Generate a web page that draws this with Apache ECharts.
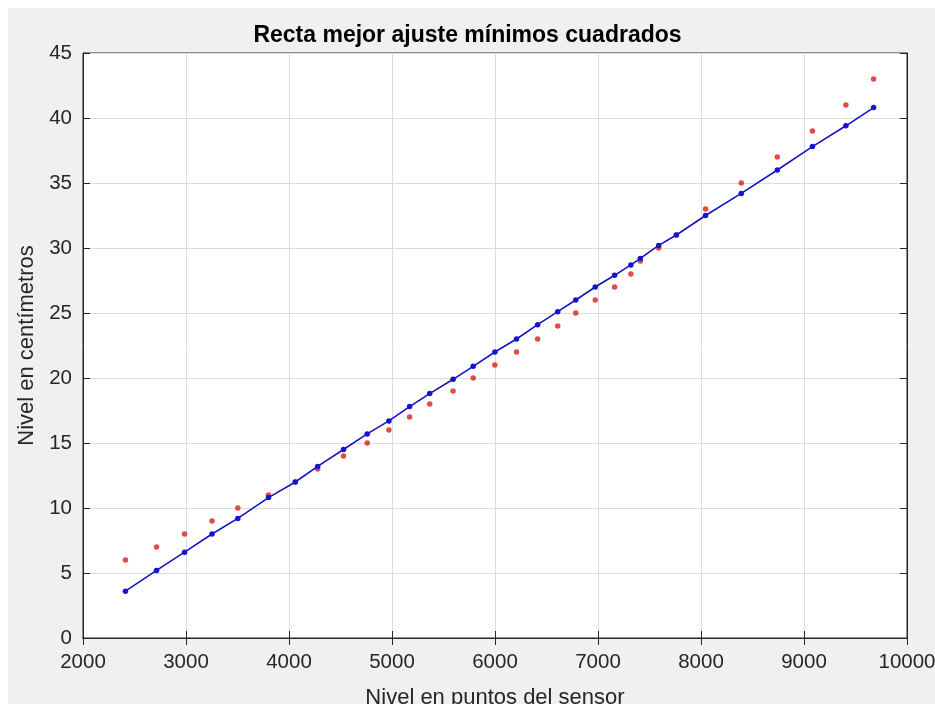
<!DOCTYPE html>
<html>
<head>
<meta charset="utf-8">
<script src="https://cdn.jsdelivr.net/npm/echarts@6/dist/echarts.min.js"></script>
<style>
html,body{margin:0;padding:0;background:#ffffff;}
#wrap{position:relative;width:935px;height:704px;background:#ffffff;overflow:hidden;}
#bg{position:absolute;left:8px;top:8px;right:0;bottom:0;background:#f0f0f0;}
#chart{position:absolute;left:0;top:0;width:935px;height:704px;}
</style>
</head>
<body>
<div id="wrap"><div id="bg"></div><div id="chart"></div></div>
<script>
// Sensor readings (x) and levels
const sensorPoints = [2412, 2714, 2986, 3253, 3503, 3801, 4061, 4278, 4529, 4759, 4970, 5171, 5366, 5593, 5788, 5999, 6209, 6414, 6609, 6784, 6973, 7161, 7319, 7411, 7589, 7761, 8044, 8391, 8741, 9082, 9407, 9676];
const measuredCm = [6, 7, 8, 9, 10, 11, 12, 13, 14, 15, 16, 17, 18, 19, 20, 21, 22, 23, 24, 25, 26, 27, 28, 29, 30, 31, 33, 35, 37, 39, 41, 43];
const fittedCm = [3.6, 5.2, 6.6, 8.0, 9.2, 10.8, 12.0, 13.2, 14.5, 15.7, 16.7, 17.8, 18.8, 19.9, 20.9, 22.0, 23.0, 24.1, 25.1, 26.0, 27.0, 27.9, 28.7, 29.2, 30.2, 31.0, 32.5, 34.2, 36.0, 37.8, 39.4, 40.8];
const xTicks = [2000, 3000, 4000, 5000, 6000, 7000, 8000, 9000, 10000];
const yTicks = [0, 5, 10, 15, 20, 25, 30, 35, 40, 45];

const titleText = 'Recta mejor ajuste mínimos cuadrados';
const xName = 'Nivel en puntos del sensor';
const yName = 'Nivel en centímetros';

const FONT = 'Liberation Sans, Arial, Helvetica, sans-serif';
const AX = '#262626';

const chart = echarts.init(document.getElementById('chart'), null, {renderer: 'canvas'});

const measuredData = sensorPoints.map((x, i) => [x, measuredCm[i]]);
const fittedData = sensorPoints.map((x, i) => [x, fittedCm[i]]);

const tickCommon = {show: true, inside: true, length: 7, lineStyle: {color: AX, width: 1}};

chart.setOption({
  animation: false,
  backgroundColor: 'transparent',
  title: {
    text: titleText,
    left: 'center',
    top: 19,
    textStyle: {fontFamily: FONT, fontSize: 23, fontWeight: 'bold', color: '#000000'}
  },
  grid: {
    left: 83, right: 28, top: 53, bottom: 66,
    outerBoundsMode: 'none',
    containLabel: false,
    show: true, backgroundColor: '#ffffff', borderColor: AX, borderWidth: 1
  },
  xAxis: [{
    type: 'value',
    min: xTicks[0], max: xTicks[xTicks.length - 1], interval: 1000,
    position: 'bottom',
    name: xName,
    nameLocation: 'middle',
    nameGap: 49,
    nameTextStyle: {fontFamily: FONT, fontSize: 22, color: AX},
    axisLine: {show: true, lineStyle: {color: AX, width: 1}},
    axisTick: tickCommon,
    axisLabel: {fontFamily: FONT, fontSize: 20.5, color: AX, margin: 14, showMinLabel: true, showMaxLabel: true,
      formatter: v => String(v)},
    splitLine: {show: true, lineStyle: {color: '#dcdcdc', width: 1}}
  }, {
    type: 'value',
    min: xTicks[0], max: xTicks[xTicks.length - 1], interval: 1000,
    position: 'top',
    axisLine: {show: true, lineStyle: {color: AX, width: 1}},
    axisTick: tickCommon,
    axisLabel: {show: false},
    splitLine: {show: false}
  }],
  yAxis: [{
    type: 'value',
    min: yTicks[0], max: yTicks[yTicks.length - 1], interval: 5,
    position: 'left',
    name: yName,
    nameLocation: 'middle',
    nameGap: 41,
    nameRotate: 90,
    nameTextStyle: {fontFamily: FONT, fontSize: 22, color: AX},
    axisLine: {show: true, lineStyle: {color: AX, width: 1}},
    axisTick: tickCommon,
    axisLabel: {fontFamily: FONT, fontSize: 20.5, color: AX, margin: 11, formatter: v => String(v)},
    splitLine: {show: true, lineStyle: {color: '#dcdcdc', width: 1}}
  }, {
    type: 'value',
    min: yTicks[0], max: yTicks[yTicks.length - 1], interval: 5,
    position: 'right',
    axisLine: {show: true, lineStyle: {color: AX, width: 1}},
    axisTick: tickCommon,
    axisLabel: {show: false},
    splitLine: {show: false}
  }],
  series: [{
    name: 'Medido',
    type: 'scatter',
    data: measuredData,
    symbol: 'circle',
    symbolSize: 5.5,
    itemStyle: {color: '#d8201a'},
    z: 2
  }, {
    name: 'Ajuste',
    type: 'line',
    data: fittedData,
    symbol: 'circle',
    symbolSize: 5.5,
    showSymbol: true,
    lineStyle: {color: '#1414c0', width: 1.6},
    itemStyle: {color: '#1414d0', borderWidth: 0},
    z: 3
  }]
});
</script>
</body>
</html>
